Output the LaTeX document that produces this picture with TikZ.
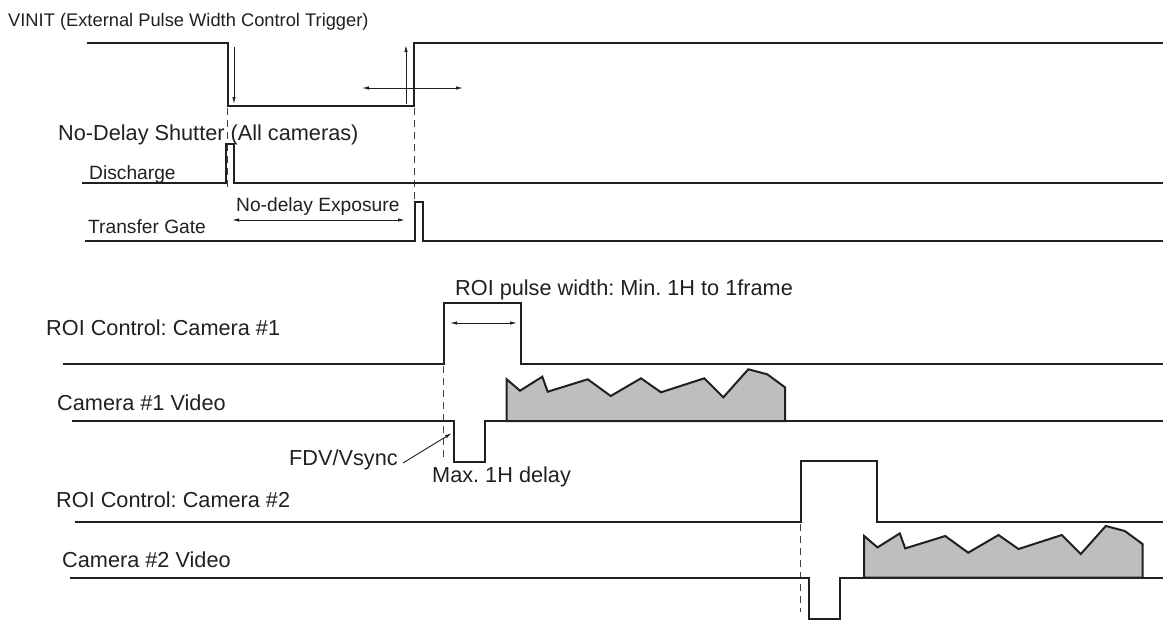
\documentclass[tikz,border=0pt]{standalone}
\usepackage{fontspec}
\setmainfont{Liberation Sans}
\usetikzlibrary{arrows.meta}
\definecolor{ink}{HTML}{231F20}
\definecolor{wave}{HTML}{BCBEC0}
\begin{document}
\frenchspacing
\begin{tikzpicture}[x=1pt,y=-1pt,
  sig/.style={line width=2.4pt, draw=ink, line join=miter},
  guide/.style={line width=0.9pt, draw=ink!85, dash pattern=on 7pt off 5pt},
  dimarrow/.style={line width=0.9pt, draw=ink, {Latex[length=7pt,width=3.5pt]}-{Latex[length=7pt,width=3.5pt]}},
  ptr/.style={line width=0.9pt, draw=ink, -{Latex[length=7pt,width=3.5pt]}},
  lbl/.style={inner sep=0, anchor=base west, text=ink, font=\fontsize{21.7}{26}\selectfont\frenchspacing},
  lbls/.style={lbl, font=\fontsize{19.2}{23}\selectfont\frenchspacing},
  lblt/.style={lbl, font=\fontsize{18.3}{22}\selectfont\frenchspacing},
  videofill/.style={fill=wave, draw=ink, line width=2pt, line join=miter},
]
\useasboundingbox (0,0) rectangle (1165,621);

% ---- labels
\node[lblt] (vinit) at (8,27) {VINIT (External Pulse Width Control Trigger)};
\node[lbl]  (nds)   at (58,140) {No-Delay Shutter (All cameras)};
\node[lbls] (dis)   at (89,179) {Discharge};
\node[lbls] (nde)   at (236,211) {No-delay Exposure};
\node[lbls] (tg)    at (88,233) {Transfer Gate};
\node[lbl]  (roiw)  at (455,295) {ROI pulse width: Min. 1H to 1frame};
\node[lbl]  (roi1)  at (46,335) {ROI Control: Camera \#1};
\node[lbl]  (vid1)  at (57,410) {Camera \#1 Video};
\node[lbl]  (fdv)   at (289,465) {FDV/Vsync};
\node[lbl]  (maxd)  at (432,482) {Max. 1H delay};
\node[lbl]  (roi2)  at (56,507) {ROI Control: Camera \#2};
\node[lbl]  (vid2)  at (62,567) {Camera \#2 Video};

% ---- guides
\draw[guide] (227,108) -- (227,190);
\draw[guide] (414,108) -- (414,202);
\draw[guide] (443,366) -- (443,460);
\draw[guide] (800,524) -- (800,612);

% ---- video waveforms
\draw[videofill] (506.7,421) -- (506.7,379.3) -- (520,390.7) -- (542.3,376.7) -- (547.7,391.7)
  -- (587.7,379.3) -- (610.7,396) -- (641,378.3) -- (661,392.3) -- (704.3,378.3)
  -- (723.3,397.3) -- (748.3,369.3) -- (767.3,374.3) -- (785,387.3) -- (785,421) -- cycle;
\begin{scope}[shift={(357.5,156.7)}]
\draw[videofill] (506.7,421) -- (506.7,379.3) -- (520,390.7) -- (542.3,376.7) -- (547.7,391.7)
  -- (587.7,379.3) -- (610.7,396) -- (641,378.3) -- (661,392.3) -- (704.3,378.3)
  -- (723.3,397.3) -- (748.3,369.3) -- (767.3,374.3) -- (785,387.3) -- (785,421) -- cycle;
\end{scope}

% ---- signals
\draw[sig] (87,43) -- (228,43) -- (228,106) -- (414,106) -- (414,43) -- (1163,43);
\draw[sig] (82,183) -- (226,183) -- (226,144) -- (234,144) -- (234,183) -- (1163,183);
\draw[sig] (85,241) -- (415,241) -- (415,202) -- (423,202) -- (423,241) -- (1163,241);
\draw[sig] (63,364) -- (444,364) -- (444,303) -- (521,303) -- (521,364) -- (1163,364);
\draw[sig] (72,421) -- (454,421) -- (454,462) -- (485,462) -- (485,421) -- (1163,421);
\draw[sig] (75,522) -- (801,522) -- (801,461) -- (877,461) -- (877,522) -- (1163,522);
\draw[sig] (70,578) -- (809,578) -- (809,619) -- (840,619) -- (840,578) -- (1163,578);

% ---- arrows
\coordinate (dA) at (234,47);  \coordinate (dB) at (234,104);
\draw[ptr] (dA) -- (dB);
\coordinate (uA) at (406,104); \coordinate (uB) at (406,45);
\draw[ptr] (uA) -- (uB);
\coordinate (hA) at (362,88);  \coordinate (hB) at (463,88);
\draw[dimarrow] (hA) -- (hB);
\coordinate (eA) at (232,220); \coordinate (eB) at (405,220);
\draw[dimarrow] (eA) -- (eB);
\coordinate (wA) at (450,323); \coordinate (wB) at (517,323);
\draw[dimarrow] (wA) -- (wB);
\coordinate (fdvtip) at (452,433);
\draw[ptr] ([xshift=5pt,yshift=2pt]fdv.base east) -- (fdvtip);
\end{tikzpicture}
\end{document}
